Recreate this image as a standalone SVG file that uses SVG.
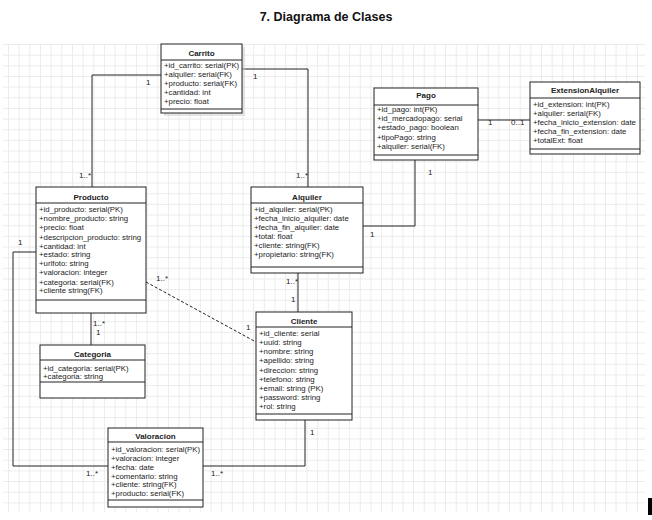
<svg xmlns="http://www.w3.org/2000/svg" width="652" height="520" viewBox="0 0 652 520">
<defs>
<pattern id="grid" x="8" y="44" width="10.66" height="10.66" patternUnits="userSpaceOnUse">
<path d="M0 0.5 H10.66 M0.5 0 V10.66" fill="none" stroke="#ebebeb" stroke-width="1"/>
</pattern>
<style>
.box{fill:#fff;stroke:#222;stroke-width:1}
.sep{stroke:#222;stroke-width:1}
.t{font-family:"Liberation Sans",Arial,sans-serif;font-size:8px;font-weight:bold;fill:#222;text-anchor:middle}
.a{font-family:"Liberation Sans",Arial,sans-serif;font-size:7.8px;fill:#222}
.c{fill:none;stroke:#222;stroke-width:1}
.l{font-family:"Liberation Sans",Arial,sans-serif;font-size:8px;fill:#222}
.title{font-family:"Liberation Sans",Arial,sans-serif;font-size:12.5px;font-weight:bold;fill:#111;text-anchor:middle}
</style>
</defs>
<rect width="652" height="520" fill="#fff"/>
<rect x="3" y="44" width="642" height="468" fill="url(#grid)"/>
<text class="title" x="326" y="21">7. Diagrama de Clases</text>

<g id="connectors">
<polyline class="c" points="161,75 92,75 92,187"/>
<polyline class="c" points="242,69 308,69 308,187"/>
<polyline class="c" points="415,160 415,226 363,226"/>
<polyline class="c" points="478,120 530,120"/>
<polyline class="c" points="298,273 298,312"/>
<line class="c" x1="146" y1="282" x2="256" y2="342" stroke-dasharray="3,2"/>
<polyline class="c" points="91,313 91,345"/>
<polyline class="c" points="36,252 13,252 13,466 108,466"/>
<polyline class="c" points="305,420 305,466 203,466"/>
<text class="l" x="146" y="85">1</text>
<text class="l" x="79" y="178">1..*</text>
<text class="l" x="253" y="79">1</text>
<text class="l" x="296" y="178">1..*</text>
<text class="l" x="428" y="175">1</text>
<text class="l" x="370" y="237">1</text>
<text class="l" x="488" y="125">1</text>
<text class="l" x="511" y="125">0..1</text>
<text class="l" x="286" y="284">1..*</text>
<text class="l" x="291" y="302">1</text>
<text class="l" x="156" y="281">1..*</text>
<text class="l" x="246" y="330">1</text>
<text class="l" x="93" y="326">1..*</text>
<text class="l" x="96" y="335">1</text>
<text class="l" x="18" y="245">1</text>
<text class="l" x="86" y="476">1..*</text>
<text class="l" x="310" y="435">1</text>
<text class="l" x="211" y="476">1..*</text>
</g>

<g id="Carrito">
<rect x="164" y="47" width="81" height="69" fill="#ccc" opacity="0.5"/>
<rect class="box" x="161" y="44" width="81" height="69"/>
<line class="sep" x1="161" y1="60" x2="242" y2="60"/>
<line class="sep" x1="161" y1="109" x2="242" y2="109"/>
<text class="t" x="201.5" y="55.5">Carrito</text>
<text class="a" x="164" y="68">+id_carrito: serial(PK)</text>
<text class="a" x="164" y="77">+alquiler: serial(FK)</text>
<text class="a" x="164" y="86">+producto: serial(FK)</text>
<text class="a" x="164" y="95">+cantidad: int</text>
<text class="a" x="164" y="104">+precio: float</text>
</g>

<g id="Pago">
<rect class="box" x="374" y="88" width="104" height="72"/>
<line class="sep" x1="374" y1="105" x2="478" y2="105"/>
<line class="sep" x1="374" y1="155" x2="478" y2="155"/>
<text class="t" x="426" y="98">Pago</text>
<text class="a" x="377" y="112">+id_pago: int(PK)</text>
<text class="a" x="377" y="121.2">+id_mercadopago: serial</text>
<text class="a" x="377" y="130.4">+estado_pago: boolean</text>
<text class="a" x="377" y="139.6">+tipoPago: string</text>
<text class="a" x="377" y="148.8">+alquiler: serial(FK)</text>
</g>

<g id="ExtensionAlquiler">
<rect class="box" x="530" y="82" width="110" height="72"/>
<line class="sep" x1="530" y1="98" x2="640" y2="98"/>
<line class="sep" x1="530" y1="149" x2="640" y2="149"/>
<text class="t" x="585" y="93">ExtensionAlquiler</text>
<text class="a" x="533" y="107">+id_extension: int(PK)</text>
<text class="a" x="533" y="116">+alquiler: serial(FK)</text>
<text class="a" x="533" y="125">+fecha_inicio_extension: date</text>
<text class="a" x="533" y="134">+fecha_fin_extension: date</text>
<text class="a" x="533" y="143">+totalExt: float</text>
</g>

<g id="Producto">
<rect class="box" x="36" y="187" width="110" height="126"/>
<line class="sep" x1="36" y1="203" x2="146" y2="203"/>
<line class="sep" x1="36" y1="300" x2="146" y2="300"/>
<text class="t" x="91" y="200">Producto</text>
<text class="a" x="39" y="212">+id_producto: serial(PK)</text>
<text class="a" x="39" y="221">+nombre_producto: string</text>
<text class="a" x="39" y="230">+precio: float</text>
<text class="a" x="39" y="239.5">+descripcion_producto: string</text>
<text class="a" x="39" y="248.5">+cantidad: int</text>
<text class="a" x="39" y="257">+estado: string</text>
<text class="a" x="39" y="266">+urlfoto: string</text>
<text class="a" x="39" y="275">+valoracion: integer</text>
<text class="a" x="39" y="284.5">+categoria: serial(FK)</text>
<text class="a" x="39" y="293">+cliente string(FK)</text>
</g>

<g id="Alquiler">
<rect class="box" x="251" y="187" width="112" height="86"/>
<line class="sep" x1="251" y1="203" x2="363" y2="203"/>
<line class="sep" x1="251" y1="267" x2="363" y2="267"/>
<text class="t" x="307" y="200">Alquiler</text>
<text class="a" x="254" y="211.5">+id_alquiler: serial(PK)</text>
<text class="a" x="254" y="220.8">+fecha_inicio_alquiler: date</text>
<text class="a" x="254" y="230">+fecha_fin_alquiler: date</text>
<text class="a" x="254" y="239">+total: float</text>
<text class="a" x="254" y="248">+cliente: string(FK)</text>
<text class="a" x="254" y="257">+propietario: string(FK)</text>
</g>

<g id="Cliente">
<rect class="box" x="256" y="312" width="96" height="108"/>
<line class="sep" x1="256" y1="327" x2="352" y2="327"/>
<line class="sep" x1="256" y1="414" x2="352" y2="414"/>
<text class="t" x="304" y="324">Cliente</text>
<text class="a" x="259" y="336">+id_cliente: serial</text>
<text class="a" x="259" y="345">+uuid: string</text>
<text class="a" x="259" y="354">+nombre: string</text>
<text class="a" x="259" y="363.3">+apellido: string</text>
<text class="a" x="259" y="372.5">+direccion: string</text>
<text class="a" x="259" y="381.6">+telefono: string</text>
<text class="a" x="259" y="390.8">+email: string (PK)</text>
<text class="a" x="259" y="400">+password: string</text>
<text class="a" x="259" y="409">+rol: string</text>
</g>

<g id="Categoria">
<rect class="box" x="40" y="345" width="105" height="53"/>
<line class="sep" x1="40" y1="360" x2="145" y2="360"/>
<line class="sep" x1="40" y1="382" x2="145" y2="382"/>
<text class="t" x="92.5" y="357">Categoria</text>
<text class="a" x="43" y="370.5">+id_categoria: serial(PK)</text>
<text class="a" x="43" y="378.5">+categoria: string</text>
</g>

<g id="Valoracion">
<rect class="box" x="108" y="428" width="95" height="79"/>
<line class="sep" x1="108" y1="442" x2="203" y2="442"/>
<line class="sep" x1="108" y1="500" x2="203" y2="500"/>
<text class="t" x="155.5" y="439">Valoracion</text>
<text class="a" x="111" y="452">+id_valoracion: serial(PK)</text>
<text class="a" x="111" y="460.6">+valoracion: integer</text>
<text class="a" x="111" y="469.5">+fecha: date</text>
<text class="a" x="111" y="478.5">+comentario: string</text>
<text class="a" x="111" y="487">+cliente: string(FK)</text>
<text class="a" x="111" y="496">+producto: serial(FK)</text>
</g>

<rect x="648" y="498" width="4" height="17" fill="#000"/>
</svg>
